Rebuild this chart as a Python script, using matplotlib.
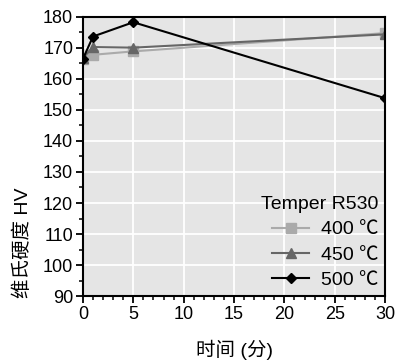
import matplotlib.pyplot as plt
from matplotlib.ticker import MultipleLocator

plt.rcParams['font.family'] = ['Liberation Sans', 'Noto Sans CJK SC', 'DejaVu Sans']
plt.rcParams['font.size'] = 14

time_min = [0, 1, 5, 30]
hv_400 = [166.5, 167.8, 168.9, 174.8]
hv_450 = [166.8, 170.3, 170.1, 174.4]
hv_500 = [166.5, 173.7, 178.3, 153.8]
labels = ['400 \u2103', '450 \u2103', '500 \u2103']

fig = plt.figure(figsize=(3.95, 3.61), dpi=100)
ax = fig.add_axes([0.21, 0.18, 0.765, 0.773])
ax.set_facecolor('#e5e5e5')
ax.grid(True, color='white', linewidth=1.3)
ax.set_axisbelow(True)

ax.plot(time_min, hv_400, '-s', color='#aaaaaa', markersize=7, linewidth=1.5, label=labels[0])
ax.plot(time_min, hv_450, '-^', color='#666666', markersize=7, linewidth=1.5, label=labels[1])
ax.plot(time_min, hv_500, '-D', color='black', markersize=5, linewidth=1.5, label=labels[2])

ax.set_xlim(0, 30)
ax.set_ylim(90, 180)
ax.xaxis.set_major_locator(MultipleLocator(5))
ax.xaxis.set_minor_locator(MultipleLocator(1))
ax.yaxis.set_major_locator(MultipleLocator(10))
ax.yaxis.set_minor_locator(MultipleLocator(5))
ax.tick_params(which='major', direction='out', length=5, width=1.3, labelsize=13, pad=2)
ax.tick_params(which='minor', direction='out', length=3, width=1.1)
for s in ax.spines.values():
    s.set_linewidth(1.5)

ax.set_xlabel('时间 (分)', labelpad=12)
ax.set_ylabel('维氏硬度 HV')
ax.yaxis.set_label_coords(-0.17, 0.19)

leg = ax.legend(title='Temper R530', loc='lower right', frameon=False,
                handlelength=1.9, handletextpad=0.6, borderaxespad=0.15,
                borderpad=0.2, labelspacing=0.4, alignment='right')

fig.savefig('out.png', dpi=100)
